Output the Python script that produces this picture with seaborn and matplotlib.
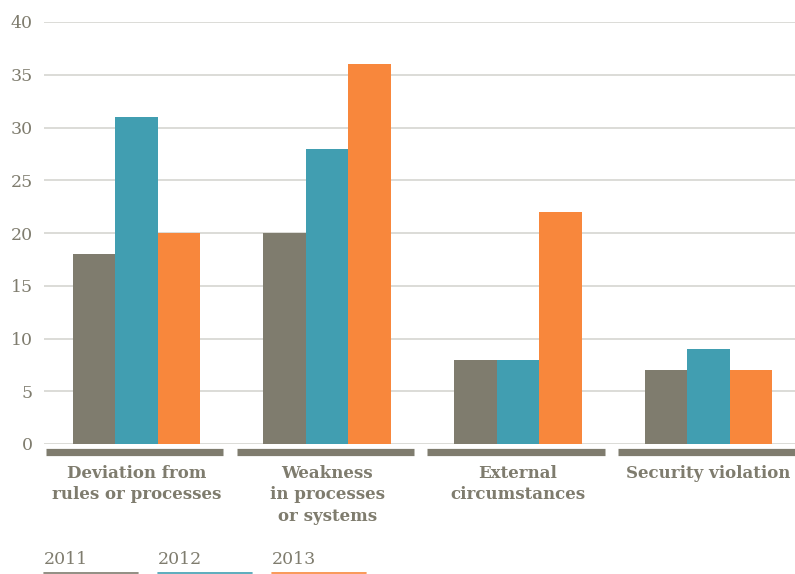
import seaborn as sns
import pandas as pd
import numpy as np
import matplotlib.pyplot as plt
from matplotlib.lines import Line2D
import matplotlib.transforms as mtransforms

sns.set_theme(style='white')
plt.rcParams['font.family'] = ['DejaVu Serif']

categories = ['Deviation from\nrules or processes', 'Weakness\nin processes\nor systems',
              'External\ncircumstances', 'Security violation']
years = ['2011', '2012', '2013']
v2011 = [18, 20, 8, 7]
v2012 = [31, 28, 8, 9]
v2013 = [20, 36, 22, 7]
colors = ['#7f7c6e', '#419eb1', '#f8873c']
text_color = '#7f7c6e'

df = pd.DataFrame({
    'category': categories * 3,
    'year': [y for y in years for _ in categories],
    'value': v2011 + v2012 + v2013,
})

fig = plt.figure(figsize=(7.95, 5.74), dpi=100)
ax = fig.add_axes([44 / 795, 1 - 444 / 574, 1 - 44 / 795, 422 / 574])

sns.barplot(data=df, x='category', y='value', hue='year', palette=colors,
            width=0.67, ax=ax, legend=False, saturation=1, edgecolor='none')

ax.set_ylim(0, 40)
ax.set_xlim(-0.485, 3.453)
ax.set_yticks(range(0, 41, 5))
ax.yaxis.grid(True, color='#d9d9d4', linewidth=1.3)
ax.set_axisbelow(True)
for s in ax.spines.values():
    s.set_visible(False)
ax.set_xlabel('')
ax.set_ylabel('')
ax.tick_params(axis='y', length=0, pad=8, labelsize=12.5, labelcolor=text_color)
ax.tick_params(axis='x', length=0, pad=15)
for lab in ax.get_xticklabels():
    lab.set_fontsize(12)
    lab.set_fontweight('bold')
    lab.set_color(text_color)
    lab.set_linespacing(1.35)

# category bands under each group
trans = mtransforms.blended_transform_factory(ax.transData, ax.transAxes)
for i in range(len(categories)):
    ax.plot([i - 0.475, i + 0.455], [-0.02, -0.02], transform=trans, color=text_color,
            linewidth=5.2, solid_capstyle='butt', clip_on=False)

# legend
for i, (yr, c) in enumerate(zip(years, colors)):
    x0 = (44 + 114 * i) / 795
    fig.text(x0, 1 - 559 / 574, yr, color=text_color, fontsize=12.5, va='center', ha='left')
    fig.add_artist(Line2D([x0, x0 + 94 / 795], [1 - 572.5 / 574] * 2, color=c,
                          linewidth=1.2, transform=fig.transFigure))

plt.savefig('out.png', dpi=100)
